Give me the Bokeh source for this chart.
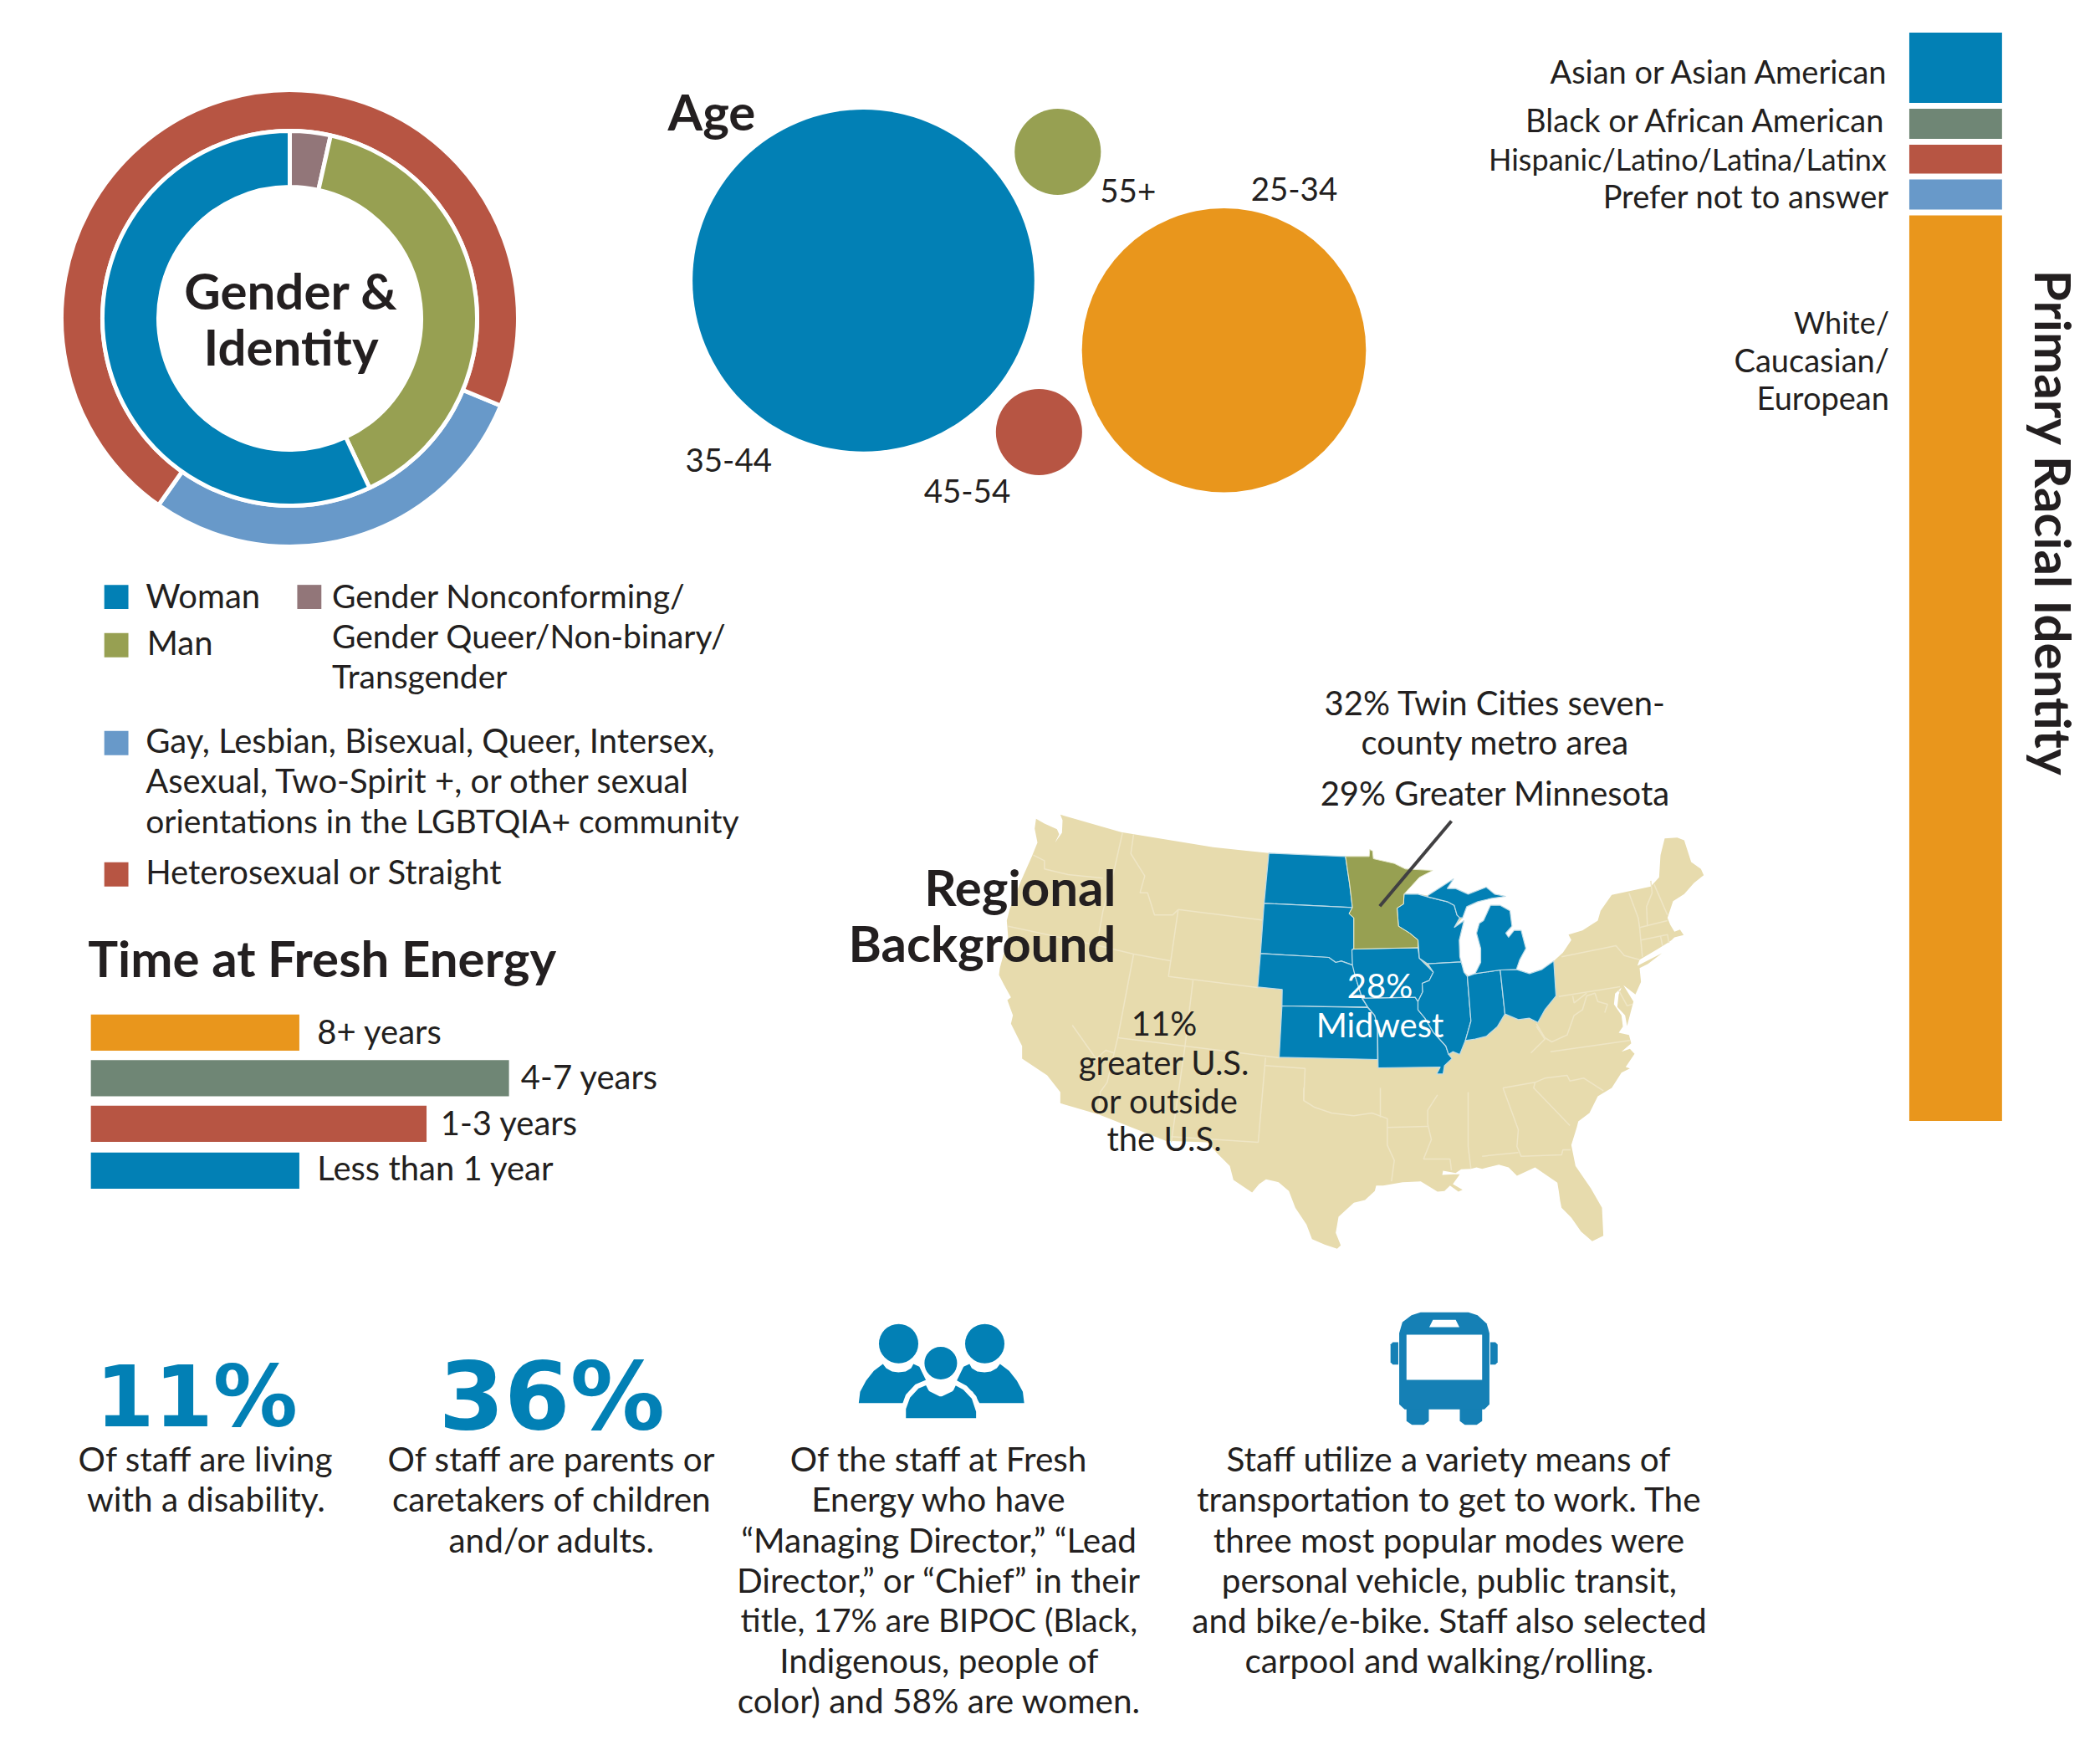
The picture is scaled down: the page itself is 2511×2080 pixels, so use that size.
from bokeh.plotting import figure
from bokeh.models import Range1d, ColumnDataSource
from bokeh.core.properties import value
from bokeh.embed import file_html
from bokeh.resources import INLINE
import math

# ---------- data ----------
gender_labels = ["Woman", "Gender Nonconforming", "Man"]
gender_values = [57, 3.5, 39.5]
orientation_labels = ["Gay, Lesbian, etc.", "Heterosexual or Straight"]
orientation_values = [28.5, 71.5]
age_labels = ["35-44", "25-34", "45-54", "55+"]
age_values = [55, 38, 3.5, 3.5]
tenure_labels = ["8+ years", "4-7 years", "1-3 years", "Less than 1 year"]
tenure_values = [17.7, 35.5, 28.5, 17.7]
race_labels = ["Asian or Asian American", "Black or African American",
               "Hispanic/Latino/Latina/Latinx", "Prefer not to answer", "White"]
race_values = [7.0, 3.3, 3.2, 3.3, 83.2]

# ---------- colours ----------
BLUE = "#0280B5"; OLIVE = "#97A052"; RED = "#B75543"; LBLUE = "#6899C9"
MAUVE = "#927679"; ORANGE = "#E9961C"; GREEN = "#6F8675"; BEIGE = "#E7DBAD"
INK = "#231F20"; BUS = "#1580B5"; SEAM = "#EFE6C6"

# ---------- map shapes (traced on four map sheets) ----------
def sheet(o, pts):
    return [(o[0] + a / 3, o[1] + b / 3) for a, b in pts]
A = (1500, 1000); B = (1700, 980); C = (1450, 1300); D = (1180, 960)

US_OUTLINE = (
 sheet(D, [(175,55),(205,72),(250,92),(258,110),(243,140),(268,105),(270,60),(262,40),(480,103),(810,157),(1010,178)])
 + sheet(A, [(50,58),(325,70),(410,70),(412,45),(422,50),(425,78),(500,95),(540,115),(638,120),(590,145),(535,205),(585,205),(620,210),(690,165),(713,150),(690,185),(720,185),(765,205),(830,180),(860,205),(900,213),(850,220),(800,232),(760,250),(745,290),(715,325),(750,300),(733,370),(735,430),(750,485),(770,500),(790,490),(810,450),(810,400),(795,345),(805,310),(820,300),(845,245),(880,245),(915,265),(922,320),(900,345),(910,360),(930,335),(955,335),(972,400),(950,440),(938,475),(985,490),(1030,475),(1072,445),(1105,415),(1135,370),(1125,350),(1175,335),(1230,300),(1240,265),(1280,208),(1340,195),(1420,178)])
 + sheet(B, [(850,205),(855,125),(870,65),(915,62),(940,72),(965,150),(1000,175),(1010,197),(975,225),(940,265),(900,290),(880,350),(890,375),(905,400),(925,392),(938,412),(905,420),(895,430),(880,440),(845,462),(780,500),(772,522),(860,477),(810,515),(780,530),(785,580),(765,625),(722,592),(758,650),(745,700),(735,738),(728,700),(700,670),(705,625),(715,600),(692,622),(688,660),(715,700),(720,740),(705,762),(742,770),(750,800),(715,830),(745,820),(762,838),(730,885),(745,890),(715,905),(680,960),(630,990),(600,1050),(560,1080),(555,1100)])
 + sheet(C, [(1285,205),(1300,280),(1355,360),(1395,430),(1400,530),(1360,550),(1320,515),(1285,465),(1250,430),(1245,405),(1240,370),(1235,340),(1155,285),(1090,315),(1060,285),(1025,275),(985,285),(965,290),(945,285),(925,290),(890,292),(870,305),(825,297),(822,312),(860,310),(885,310),(860,345),(895,365),(880,372),(850,350),(830,370),(805,372),(745,335),(680,338),(610,350),(585,350),(580,370),(545,402),(505,412),(450,462),(440,520),(458,565),(445,577),(400,562),(355,542),(335,490),(295,430),(272,370),(235,338),(190,328),(165,345),(140,375),(73,330),(60,280),(15,235)])
 + sheet(D, [(790,1215),(640,1210),(400,1115),(262,1075),(262,1035),(215,975),(125,915),(125,870),(85,790),(92,760),(72,705),(85,695),(60,650),(42,615),(45,590),(75,480),(70,420),(80,380),(120,280),(160,190),(180,140),(170,90)])
)
STATE_ND = [(50,58),(325,70),(340,170),(350,253),(33,238)]
STATE_SD = [(33,238),(350,253),(338,275),(355,290),(355,400),(348,405),(352,460),(310,445),(290,450),(265,432),(20,418)]
STATE_NE = [(20,418),(265,432),(290,450),(310,445),(352,460),(360,500),(385,580),(405,610),(97,606),(98,547),(10,538)]
STATE_KS = [(97,606),(405,612),(430,640),(440,680),(440,798),(87,790)]
STATE_MO = [(385,578),(575,575),(585,590),(585,620),(610,650),(640,700),(685,750),(695,780),(707,795),(680,820),(675,850),(652,850),(665,825),(442,828),(440,680),(430,640),(405,610)]
STATE_IA = [(355,402),(585,397),(590,435),(640,485),(625,515),(600,525),(602,555),(585,590),(575,575),(385,578),(360,500),(350,460),(348,405)]
STATE_WI = [(535,205),(585,205),(620,215),(690,232),(715,245),(725,280),(735,290),(715,325),(750,300),(733,370),(735,430),(740,448),(620,455),(590,435),(585,370),(555,345),(515,320),(510,255),(533,240)]
STATE_MN = [(325,70),(410,70),(412,45),(422,50),(425,78),(500,95),(540,115),(638,120),(590,145),(535,205),(533,240),(510,255),(515,320),(555,345),(585,370),(585,397),(355,402),(355,290),(338,275),(350,253),(340,170)]
STATE_IL = [(620,455),(740,448),(750,485),(762,500),(775,660),(755,730),(735,780),(710,770),(695,780),(685,750),(640,700),(610,650),(585,620),(585,590),(602,555),(600,525),(625,515),(640,485)]
STATE_IN = [(762,500),(790,490),(880,477),(897,635),(870,680),(830,715),(790,725),(755,730),(775,660)]
STATE_OH = [(880,477),(938,475),(985,490),(1030,475),(1072,445),(1080,570),(1040,620),(1015,665),(985,650),(945,655),(897,635)]
STATE_MIU = [(620,210),(690,165),(713,150),(690,185),(720,185),(765,205),(830,180),(860,205),(900,213),(850,220),(800,232),(760,250),(745,290),(735,290),(725,280),(715,245),(690,232),(620,215)]
STATE_MIL = [(790,490),(810,450),(810,400),(795,345),(805,310),(820,300),(845,245),(880,245),(915,265),(922,320),(900,345),(910,360),(930,335),(955,335),(972,400),(950,440),(938,475),(880,477)]
MIDWEST = [STATE_ND, STATE_SD, STATE_NE, STATE_KS, STATE_MO, STATE_IA, STATE_WI, STATE_IL, STATE_IN, STATE_OH, STATE_MIU, STATE_MIL]
LEADER = [(705,-57),(448,248)]
SEAMS = (
 [sheet(D, s) for s in [
  [(485,105),(455,240),(415,385),(400,470)],
  [(525,110),(515,180),(565,260),(548,320),(575,320),(600,400),(665,400),(685,380)],
  [(165,185),(205,205),(205,235),(290,255),(415,268)],
  [(685,380),(985,418)],[(685,380),(650,620),(970,660)],[(525,540),(660,565)],[(75,440),(400,510),(525,540)],
  [(525,540),(468,840),(455,895)],[(305,795),(390,915),(425,885),(455,895),(430,1000),(405,1035),(400,1115)],
  [(738,635),(708,880),(660,1215)],[(468,840),(1048,912)],[(998,912),(972,1215),(660,1195)],
  [(998,940),(1140,950),(1135,1065)]]]
 + [sheet(C, s) for s in [
  [(325,0),(325,45),(365,70),(425,90),(505,100),(570,90),(625,110),(625,205),(650,260),(640,335)],
  [(625,142),(770,138)],[(805,25),(770,80),(770,130),(783,185),(755,255),(850,255),(855,295)],
  [(915,15),(915,210),(925,290)],[(1040,0),(1095,150),(1090,210),(1105,245),(1250,240),(1255,222),(1283,222)],
  [(965,245),(1095,232)],[(600,0),(600,105)]]]
 + [sheet(A, s) for s in [
  [(890,900),(1005,880),(1000,900),(1130,1035)],[(1005,880),(1040,865),(1120,855),(1130,875),(1180,865),(1250,910)],
  [(1060,770),(1345,730)],[(990,775),(1040,725),(1010,680)]]]
 + [sheet(B, s) for s in [
  [(500,490),(695,450),(725,485),(780,500)],[(490,632),(710,597)],
  [(410,730),(440,780),(465,795),(520,770),(545,700),(575,680),(590,630),(620,620),(630,650),(665,660),(655,690)],
  [(742,262),(775,350),(780,385),(790,490)],[(820,217),(825,260),(805,310),(808,380)],[(832,230),(880,340)],
  [(780,385),(880,360)],[(785,430),(880,410),(885,440)],[(855,415),(862,450)],[(540,630),(545,655),(590,620)],
  [(705,610),(735,665),(755,660)]]]
)

# ---------- icon shapes (icon grid units) ----------
PERSON_L = [(52,410),(55,370),(68,330),(85,295),(105,270),(112,285),(125,297),(139,300),(155,297),(167,285),(172,270),(185,280),(200,330),(165,370),(150,410)]
PERSON_M = [(150,473),(150,430),(160,385),(180,350),(202,335),(210,360),(232,378),(255,360),(262,335),(285,355),(305,390),(315,440),(315,473)]
BUS_BODY = [(1238,160),(1245,120),(1265,95),(1285,85),(1390,85),(1410,95),(1430,125),(1436,160),(1436,415),(1425,433),(1250,433),(1238,415)]
BUS_WIN = [(1254,165),(1420,165),(1420,327),(1254,327)]
BUS_TOP = [(1312,112),(1362,112),(1370,138),(1304,138)]
BUS_PARTS = [
 [(1219,200),(1224,192),(1236,192),(1236,272),(1224,272),(1219,264)],
 [(1438,192),(1449,192),(1454,200),(1454,264),(1449,272),(1438,272)],
 [(1254,430),(1303,430),(1303,475),(1292,488),(1266,488),(1254,475)],
 [(1371,430),(1420,430),(1420,475),(1408,488),(1382,488),(1371,475)],
]

# ---------- placement ----------
S = 1.6024
def X(d): return d * S
def Y(d): return -d * S
def ix(v): return 998 + v * 850 / 1560
def iy(v): return -(1540 + v / 3)

p = figure(width=2495, height=2064, x_range=Range1d(0, 2495), y_range=Range1d(-2064, 0),
           output_backend="svg", toolbar_location=None, x_axis_location=None, y_axis_location=None,
           min_border=0, outline_line_color=None, background_fill_color="white")
p.grid.visible = False

# donut
cx, cy = 346, -380
def ring(values, colors, start_cw, r0, r1):
    a = start_cw
    for v, c in zip(values, colors):
        b = a + v * 3.6
        p.annular_wedge([cx], [cy], inner_radius=r0, outer_radius=r1,
                        start_angle=math.radians(90 - b), end_angle=math.radians(90 - a),
                        fill_color=c, line_color="white", line_width=5)
        a = b
ring(orientation_values, [LBLUE, RED], 112.5, 224, 273)
ring([gender_values[1], gender_values[2], gender_values[0]], [MAUVE, OLIVE, BLUE], 0, 157, 224)

# bubbles
age_xy = [(644,209),(913,261),(775,322),(789,113)]
age_col = [BLUE, ORANGE, RED, OLIVE]
k = 127.5 * S / math.sqrt(age_values[0])
p.circle([X(a[0]) for a in age_xy], [Y(a[1]) for a in age_xy],
         radius=[k * math.sqrt(v) for v in age_values], fill_color=age_col, line_color=None)

# racial stack
u = (836 - 24) * S / sum(race_values)
race_col = [BLUE, GREEN, RED, LBLUE, ORANGE]
t = 24 * S
for i, (v, c) in enumerate(zip(race_values, race_col)):
    gap = 7 if i < len(race_values) - 1 else 0
    p.quad(left=[X(1424.4)], right=[X(1493.6)], top=[-t], bottom=[-(t + v * u - gap)], fill_color=c, line_color=None)
    t += v * u

# tenure bars
bw = 312 * S / tenure_values[1]
ten_y = [770, 804, 838, 873]
ten_col = [ORANGE, GREEN, RED, BLUE]
p.hbar(y=[Y(v) for v in ten_y], left=X(67.5), right=[X(67.5) + v * bw for v in tenure_values],
       height=27 * S, fill_color=ten_col, line_color=None)

# legend swatches
sw = [(86.5,445,BLUE),(86.5,481,OLIVE),(230.5,445,MAUVE),(86.5,554,LBLUE),(86.5,652,RED)]
p.rect([X(a[0]) for a in sw], [Y(a[1]) for a in sw], width=18 * S, height=18 * S,
       fill_color=[a[2] for a in sw], line_color=None)

# map
def poly(pts, col, line=None, lw=1):
    p.patch([a for a, b in pts], [-b for a, b in pts], fill_color=col, line_color=line, line_width=lw)
poly(US_OUTLINE, BEIGE)
p.multi_line([[a for a, b in s] for s in SEAMS], [[-b for a, b in s] for s in SEAMS],
             line_color=SEAM, line_width=1.5)
for st in MIDWEST:
    poly(sheet(A, st), BLUE, "#BFDCE8", 1.2)
poly(sheet(A, STATE_MN), OLIVE, "#E8EBD0", 1)
lead = sheet(A, LEADER)
p.line([a for a, b in lead], [-b for a, b in lead], line_color="#414042", line_width=4)

# icons
def ipoly(pts, col, line=None, lw=0, mirror=False):
    xs = [ix(467 - a if mirror else a) for a, b in pts]
    p.patch(xs, [iy(b) for a, b in pts], fill_color=col, line_color=line, line_width=lw)
ipoly(PERSON_L, BLUE)
ipoly(PERSON_L, BLUE, mirror=True)
p.circle([1074, 1177], [-1605.7, -1605.7], radius=23.5, fill_color=BLUE, line_color=None)
ipoly(PERSON_M, BLUE, "white", 6)
p.circle([1124.4], [-1629], radius=22, fill_color=BLUE, line_color="white", line_width=5)
for part in BUS_PARTS:
    ipoly(part, BUS)
ipoly(BUS_BODY, BUS)
ipoly(BUS_WIN, "white")
ipoly(BUS_TOP, "white")

# texts
def texts(rows, size, font="Lato", style="normal", color=INK, align="left", angle=0, dy=2):
    src = ColumnDataSource(dict(x=[X(r[0] - 0.6) for r in rows], y=[Y(r[1] - dy) for r in rows], t=[r[2] for r in rows]))
    p.text("x", "y", text="t", source=src, text_font=value(font), text_font_style=style,
           text_font_size=value(f"{size}px"), text_color=color, text_align=align,
           text_baseline="middle", angle=angle)

HEAD = 60
HFONT = "Lato"
texts([(217.5,218,"Gender &"),(217.5,260,"Identity")], HEAD, font=HFONT, style="bold", align="center")
texts([(498.6,85,"Age")], HEAD, font=HFONT, style="bold")
texts([(66,716,"Time at Fresh Energy")], HEAD, font=HFONT, style="bold")
texts([(833,663,"Regional"),(833,705,"Background")], HEAD, font=HFONT, style="bold", align="right")
texts([(1533,390,"Primary Racial Identity")], HEAD, font=HFONT, style="bold", align="center", angle=-math.pi/2, dy=0)
texts([(842,143,"55+"),(966,142,"25-34"),(544,344,"35-44"),(722,367,"45-54")], 38.5, align="center", dy=1)
texts([(1410,55,"Asian or Asian American"),(1408,91,"Black or African American"),
       (1410,148,"Prefer not to answer"),(1410,270,"Caucasian/"),(1410,298,"European")], 38, align="right")
texts([(1408,120,"Hispanic/Latino/Latina/Latinx"),(1410,242,"White/")], 36, align="right")
texts([(248,446,"Gender Nonconforming/"),(248,476,"Gender Queer/Non-binary/"),(248,506,"Transgender")], 39)
texts([(109,614,"orientations in the LGBTQIA+ community")], 39)
texts([(109,446,"Woman"),(110,481,"Man"),(109,554,"Gay, Lesbian, Bisexual, Queer, Intersex,"),
       (109,584,"Asexual, Two-Spirit +, or other sexual"),
       (109,652,"Heterosexual or Straight"),(237,771,"8+ years"),(389,805,"4-7 years"),(329,839,"1-3 years"),
       (237,873,"Less than 1 year")], 40)
texts([(1116,526,"32% Twin Cities seven-"),(1116,555,"county metro area"),(1116,593,"29% Greater Minnesota"),
       (869,765,"11%"),(869,794,"greater U.S."),(869,823,"or outside"),(869,851,"the U.S.")], 40, align="center")
texts([(154,1090,"Of staff are living"),(154,1120,"with a disability."),
       (412,1090,"Of staff are parents or"),(412,1120,"caretakers of children"),(412,1150,"and/or adults."),
       (701,1090,"Of the staff at Fresh"),(701,1120,"Energy who have"),(701,1150,"“Managing Director,” “Lead"),
       (701,1180,"Director,” or “Chief” in their"),
       (701,1240,"Indigenous, people of"),(701,1270,"color) and 58% are women."),
       (1082,1090,"Staff utilize a variety means of"),(1082,1120,"transportation to get to work. The"),
       (1082,1150,"three most popular modes were"),(1082,1180,"personal vehicle, public transit,"),
       (1082,1210,"and bike/e-bike. Staff also selected"),(1082,1240,"carpool and walking/rolling.")], 40.5, align="center")
texts([(701,1210,"title, 17% are BIPOC (Black,")], 39, align="center")
texts([(1030,737,"28%"),(1030,766,"Midwest")], 40, color="white", align="center")
texts([(147,1044,"11%")], 101, font="DejaVu Sans", style="bold", color=BLUE, align="center")
texts([(412,1043,"36%")], 113, font="DejaVu Sans", style="bold", color=BLUE, align="center")

open("out.html", "w").write(file_html(p, INLINE))
